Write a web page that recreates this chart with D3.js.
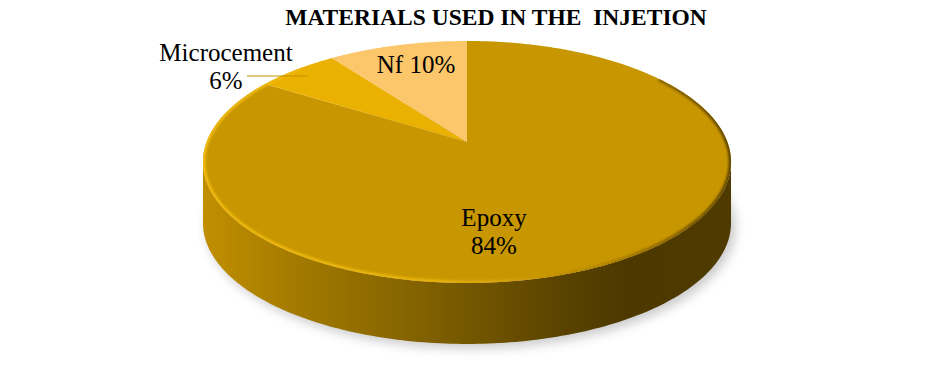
<!DOCTYPE html>
<html>
<head>
<meta charset="utf-8">
<script src="https://cdn.jsdelivr.net/npm/d3@7"></script>
<style>
  body { margin: 0; background: #fff; }
  svg { display: block; }
</style>
</head>
<body>
<div id="chart"></div>
<script>
const title = "MATERIALS USED IN THE\u00a0\u00a0INJETION";
const categories = ["Epoxy", "Microcement", "Nf"];
const values = [84, 6, 10];
const topColors = ["#C89600", "#EBB100", "#FCC66B"];

const width = 933, height = 366;
const serif = "'Liberation Serif', 'Times New Roman', 'DejaVu Serif', serif";

// projection of the tilted disk (perspective)
const cx = 467, cy = 142, a = 260.4, b = 117.7, k = 0.165, depth = 61;

function proj(r, ang) {
  let u = r * Math.sin(ang), v = -r * Math.cos(ang);
  let d = 1 - k * v;
  return [cx + a * u / d, cy + b * v / d];
}

function arcPoints(a0, a1, r, n) {
  let pts = [];
  let steps = Math.max(2, Math.ceil(Math.abs(a1 - a0) / (Math.PI / 180) * (n || 1)));
  for (let i = 0; i <= steps; i++) {
    pts.push(proj(r, a0 + (a1 - a0) * i / steps));
  }
  return pts;
}

const line = d3.line();

let svg = d3.select("#chart")
  .append("svg")
  .attr("width", width)
  .attr("height", height);

let defs = svg.append("defs");

let blur = defs.append("filter").attr("id", "shadowBlur")
  .attr("x", "-20%").attr("y", "-20%").attr("width", "140%").attr("height", "140%");
blur.append("feGaussianBlur").attr("stdDeviation", 6);

let soft = defs.append("filter").attr("id", "soft")
  .attr("x", "-10%").attr("y", "-10%").attr("width", "120%").attr("height", "120%");
soft.append("feGaussianBlur").attr("stdDeviation", 1.2);

let sideGrad = defs.append("linearGradient").attr("id", "sideGrad")
  .attr("gradientUnits", "userSpaceOnUse")
  .attr("x1", cx - 265).attr("x2", cx + 265).attr("y1", 0).attr("y2", 0);
[[0, "#C18F00"], [0.2, "#A07800"], [0.45, "#7C5D00"], [0.68, "#5A4300"], [0.8, "#4D3900"], [1, "#4F3A00"]]
  .forEach(s => sideGrad.append("stop").attr("offset", s[0]).attr("stop-color", s[1]));

let rimGrad = defs.append("linearGradient").attr("id", "rimGrad")
  .attr("gradientUnits", "userSpaceOnUse")
  .attr("x1", cx - 265).attr("x2", cx + 265).attr("y1", 0).attr("y2", 0);
[[0, "#F2BB10"], [0.45, "#E8B210"], [0.75, "#B58600"], [1, "#5E4500"]]
  .forEach(s => rimGrad.append("stop").attr("offset", s[0]).attr("stop-color", s[1]));

// full top ellipse outline
let topOutline = arcPoints(0, 2 * Math.PI, 1, 1);
defs.append("clipPath").attr("id", "topClip")
  .append("path").attr("d", line(topOutline) + "Z");

// widest points of the projected circle
const sideAng = Math.acos(-k);
let frontTop = arcPoints(sideAng, 2 * Math.PI - sideAng, 1, 1);
let frontBottom = frontTop.map(p => [p[0], p[1] + depth]).reverse();

// shadow
svg.append("path")
  .attr("d", line(topOutline.map(p => [p[0] + 4, p[1] + depth + 4])) + "Z")
  .attr("fill", "#000")
  .attr("opacity", 0.22)
  .attr("filter", "url(#shadowBlur)");

// side wall
svg.append("path")
  .attr("d", line(frontTop.concat(frontBottom)) + "Z")
  .attr("fill", "url(#sideGrad)");

// slices
let pie = d3.pie().sort(null).value(d => d)(values);

svg.append("g")
  .selectAll("path")
  .data(pie)
  .join("path")
  .attr("d", d => line([[cx, cy]].concat(arcPoints(d.startAngle, d.endAngle, 1, 2))) + "Z")
  .attr("fill", (d, i) => topColors[i]);

// bevel rim on the top face
svg.append("g")
  .attr("clip-path", "url(#topClip)")
  .append("path")
  .attr("d", line(arcPoints(0.3 * Math.PI, 1.75 * Math.PI, 1, 1)))
  .attr("fill", "none")
  .attr("stroke", "url(#rimGrad)")
  .attr("stroke-width", 5)
  .attr("filter", "url(#soft)");

// title
svg.append("text")
  .attr("x", 496)
  .attr("y", 25)
  .attr("text-anchor", "middle")
  .style("font-family", serif)
  .style("font-size", "23.5px")
  .style("font-weight", "bold")
  .text(title);

// data labels
const labelSpots = {
  "Epoxy": { x: 494, y: 226, lines: 2 },
  "Microcement": { x: 226, y: 61, lines: 2 },
  "Nf": { x: 416, y: 73, lines: 1 }
};

let labels = svg.append("g")
  .style("font-family", serif)
  .style("font-size", "25px")
  .attr("fill", "#000");
categories.forEach((c, i) => {
  let s = labelSpots[c];
  let t = labels.append("text").attr("text-anchor", "middle").attr("x", s.x).attr("y", s.y);
  if (s.lines === 2) {
    t.append("tspan").attr("x", s.x).text(c);
    t.append("tspan").attr("x", s.x).attr("dy", 28).text(values[i] + "%");
  } else {
    t.text(c + " " + values[i] + "%");
  }
});

// leader line for Microcement
let mid = pie[1];
let leaderEnd = proj(0.93, (mid.startAngle + mid.endAngle) / 2);
svg.append("line")
  .attr("x1", 247).attr("y1", 76)
  .attr("x2", leaderEnd[0]).attr("y2", 76)
  .attr("stroke", "#C49000")
  .attr("stroke-width", 1);
</script>
</body>
</html>
